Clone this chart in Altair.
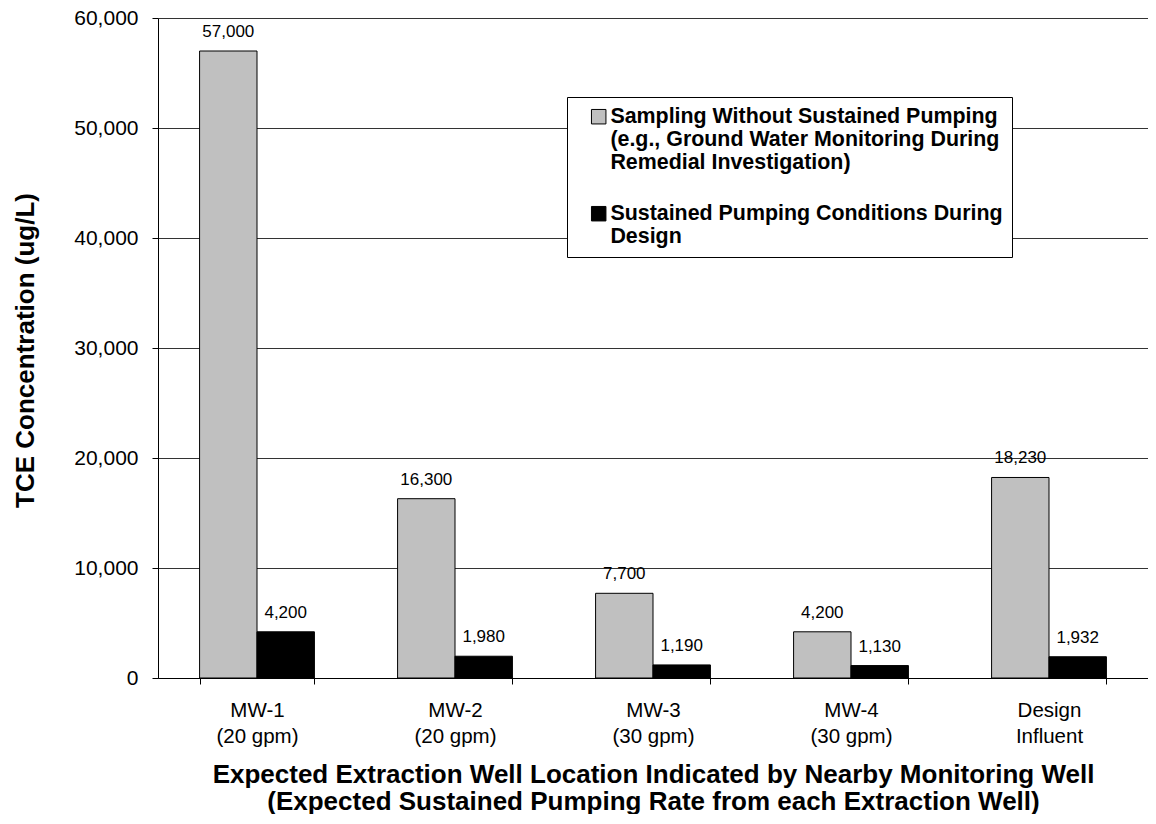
import altair as alt
import pandas as pd

categories = ["MW-1|(20 gpm)", "MW-2|(20 gpm)", "MW-3|(30 gpm)", "MW-4|(30 gpm)", "Design|Influent"]
series = [
    "Sampling Without Sustained Pumping|(e.g., Ground Water Monitoring During|Remedial Investigation)",
    "Sustained Pumping Conditions During\u00a0\u00a0|Design",
]
values_without = [57000, 16300, 7700, 4200, 18230]
values_with = [4200, 1980, 1190, 1130, 1932]
y_ticks = [0, 10000, 20000, 30000, 40000, 50000, 60000]

rows = []
for c, a, b in zip(categories, values_without, values_with):
    rows.append({"cat": c, "series": series[0], "value": a})
    rows.append({"cat": c, "series": series[1], "value": b})
df = pd.DataFrame(rows)

FONT = "Liberation Sans"

x_enc = alt.X(
    "cat:N",
    sort=categories,
    scale=alt.Scale(paddingInner=0.42, paddingOuter=0.21),
    axis=alt.Axis(
        labelExpr="split(datum.label, '|')",
        labelAngle=0,
        labelFontSize=20.5,
        labelLineHeight=26,
        labelPadding=16,
        labelColor="black",
        labelFont=FONT,
        tickBand="extent",
        tickSize=6,
        tickColor="black",
        domainColor="black",
        grid=False,
        title=["Expected Extraction Well Location Indicated by Nearby Monitoring Well",
               "(Expected Sustained Pumping Rate from each Extraction Well)"],
        titleFont=FONT,
        titleFontSize=26,
        titleFontWeight="bold",
        titleLineHeight=27,
        titleBaseline="top",
        titleY=83,
        titleColor="black",
    ),
)
xoff_enc = alt.XOffset("series:N", sort=series, scale=alt.Scale(paddingInner=0, paddingOuter=0))
y_enc = alt.Y(
    "value:Q",
    scale=alt.Scale(domain=[0, 60000], nice=False),
    axis=alt.Axis(
        values=y_ticks,
        format=",.0f",
        labelFontSize=21,
        labelFont=FONT,
        labelColor="black",
        labelPadding=14,
        tickSize=6,
        tickColor="black",
        domainColor="black",
        gridColor="#333333",
        gridWidth=1,
        title="TCE Concentration (ug/L)",
        titleFont=FONT,
        titleFontSize=26,
        titleFontWeight="bold",
        titleColor="black",
        titleAngle=270,
        titleAlign="center",
        titleBaseline="alphabetic",
        titleX=-125,
        titleY=332,
    ),
)

base = alt.Chart(df).encode(x=x_enc, xOffset=xoff_enc, y=y_enc)

bars = base.mark_bar(stroke="black", strokeWidth=1).encode(
    color=alt.Color(
        "series:N",
        sort=series,
        scale=alt.Scale(domain=series, range=["#c0c0c0", "#000000"]),
        legend=alt.Legend(
            title=None,
            orient="none",
            legendX=409,
            legendY=79,
            fillColor="white",
            strokeColor="black",
            padding=9,
            symbolType="square",
            symbolSize=210,
            symbolStrokeColor="black",
            symbolStrokeWidth=1,
            symbolOffset=12,
            labelOffset=1,
            labelFont=FONT,
            labelFontSize=21.4,
            labelFontWeight="bold",
            labelColor="black",
            labelExpr="split(datum.label, '|')",
            labelLimit=800,
            labelBaseline="middle",
            rowPadding=28,
        ),
    )
)

labels = base.mark_text(baseline="alphabetic", dy=-14, fontSize=17, font=FONT, color="black").encode(
    text=alt.Text("value:Q", format=",")
)

chart = (
    alt.layer(bars, labels)
    .properties(
        width=990,
        height=660,
        autosize=alt.AutoSizeParams(type="none"),
        padding={"left": 150, "top": 10, "right": 0, "bottom": 136},
    )
    .configure_view(stroke=None)
    .configure(font=FONT)
)

chart.save("out.html", embed_options={"renderer": "svg", "actions": False})
